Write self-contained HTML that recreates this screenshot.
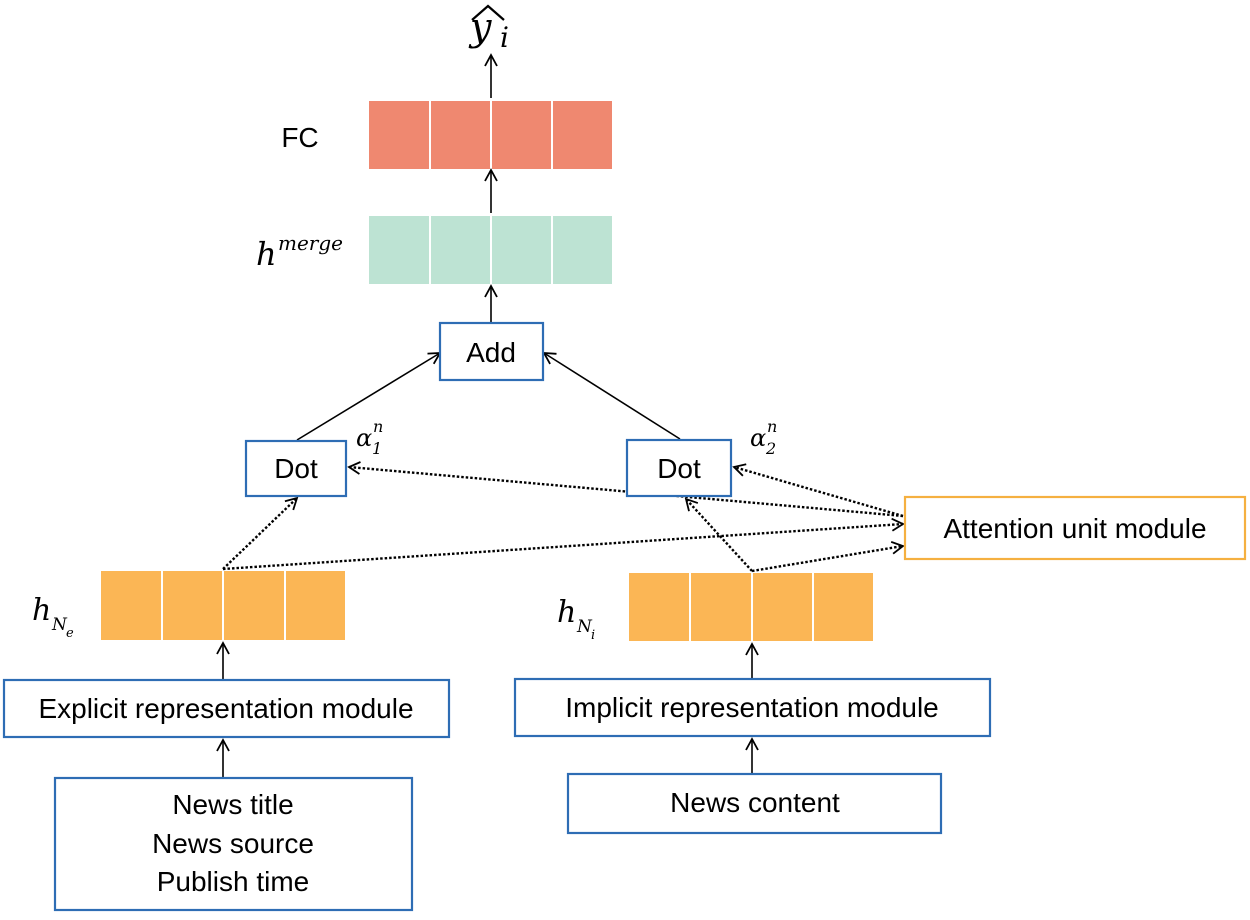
<!DOCTYPE html>
<html><head><style>
body{margin:0;background:#fff;width:1250px;height:915px;overflow:hidden}
text{font-family:"Liberation Sans",sans-serif}
.m text{font-family:"DejaVu Serif","Liberation Serif",serif;font-style:italic}
</style></head><body>
<svg width="1250" height="915" viewBox="0 0 1250 915">
<defs>
<marker id="a" markerWidth="14" markerHeight="14" refX="12" refY="7" orient="auto" markerUnits="userSpaceOnUse">
<path d="M1,1 L12,7 L1,13" fill="none" stroke="#000" stroke-width="1.8"/></marker>
</defs>
<g stroke="#fff" stroke-width="2">
<rect x="368" y="100" width="245" height="70" fill="#EF8870"/>
<rect x="368" y="215" width="245" height="70" fill="#BDE3D3"/>
<rect x="100" y="570" width="246" height="71" fill="#FBB655"/>
<rect x="628" y="572" width="246" height="70" fill="#FBB655"/>
<path d="M430 100V170M491 100V170M552 100V170M430 215V285M491 215V285M552 215V285M162 570V641M223 570V641M285 570V641M690 572V642M752 572V642M813 572V642"/>
</g>
<g stroke="#000" stroke-width="1.6" fill="none" marker-end="url(#a)">
<path d="M491 98V55"/><path d="M491 213V170"/><path d="M491 322V286"/>
<path d="M297 440L440 353"/><path d="M680 439L544 353"/>
<path d="M223 679V643"/><path d="M223 777V740"/><path d="M752 678V644"/><path d="M752 773V739"/>
</g>
<g stroke="#000" stroke-width="2.4" stroke-dasharray="2.5,2" fill="none" marker-end="url(#a)">
<path d="M223 569L297 498"/><path d="M223 569L903 524"/>
<path d="M903 516L349 467"/><path d="M903 516L734 467"/>
<path d="M752 571L686 499"/><path d="M752 571L903 546"/>
</g>
<g fill="#fff" stroke="#2E6DB4" stroke-width="2.2">
<rect x="440" y="323" width="103" height="57"/>
<rect x="246" y="441" width="100" height="55"/>
<rect x="627" y="440" width="104" height="56"/>
<rect x="4" y="680" width="445" height="57"/>
<rect x="515" y="679" width="475" height="57"/>
<rect x="55" y="778" width="357" height="132"/>
<rect x="568" y="774" width="373" height="59"/>
</g>
<rect x="905" y="497" width="340" height="62" fill="#fff" stroke="#F5B040" stroke-width="2.2"/>
<g font-size="28" fill="#000" text-anchor="middle">
<text x="491" y="362">Add</text>
<text x="296" y="478">Dot</text>
<text x="679" y="478">Dot</text>
<text x="1075" y="538">Attention unit module</text>
<text x="226" y="718">Explicit representation module</text>
<text x="752" y="717">Implicit representation module</text>
<text x="233" y="814">News title</text>
<text x="233" y="853">News source</text>
<text x="233" y="891">Publish time</text>
<text x="755" y="812">News content</text>
<text x="300" y="147">FC</text>
</g>
<g class="m" fill="#000">
<text x="470" y="40" font-size="38">y</text><text x="500" y="47" font-size="28">i</text>
<path d="M472 20L488 6L504 20" stroke="#000" stroke-width="2.2" fill="none"/>
<text x="256" y="265" font-size="32">h</text><text x="278" y="250" font-size="20">merge</text>
<text x="356" y="446" font-size="24">α</text><text x="373" y="432" font-size="16">n</text><text x="372" y="454" font-size="16">1</text>
<text x="750" y="446" font-size="24">α</text><text x="767" y="432" font-size="16">n</text><text x="766" y="454" font-size="16">2</text>
<text x="32" y="620" font-size="30">h</text><text x="52" y="630" font-size="17">N</text><text x="66" y="637" font-size="13">e</text>
<text x="557" y="622" font-size="30">h</text><text x="577" y="632" font-size="17">N</text><text x="591" y="639" font-size="13">i</text>
</g>
</svg>
</body></html>
